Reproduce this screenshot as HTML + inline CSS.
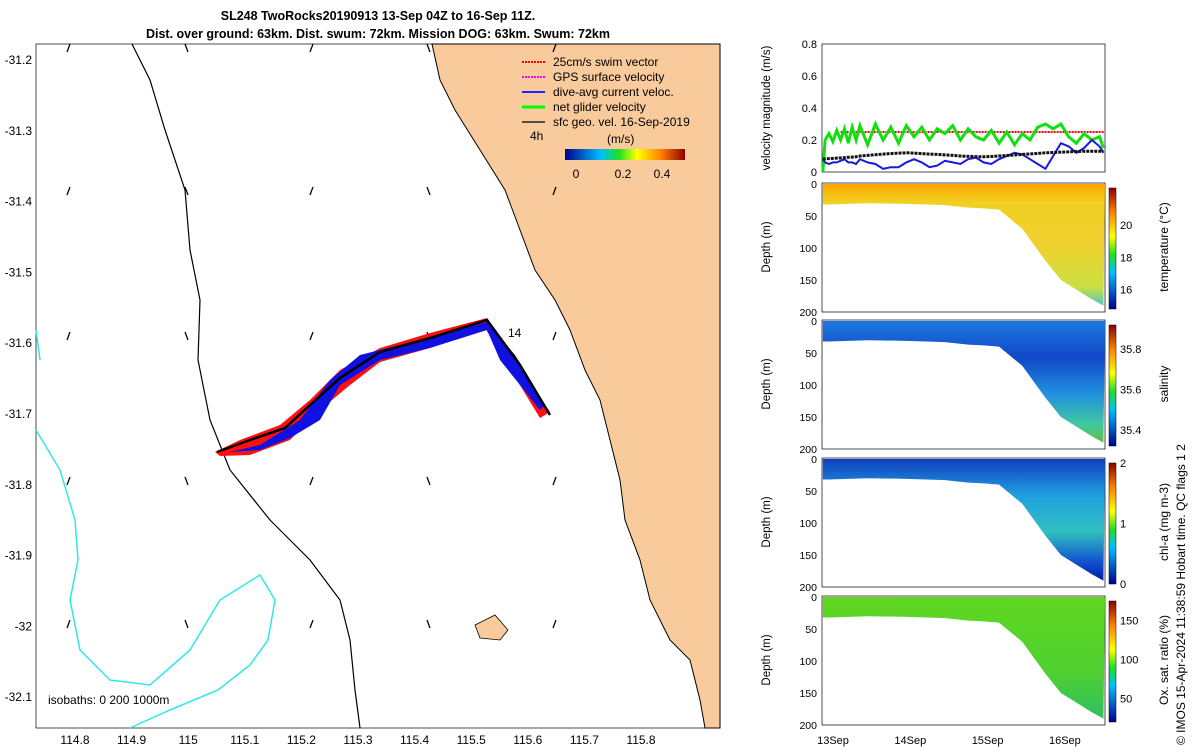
<!DOCTYPE html>
<html><head><meta charset="utf-8"><style>
body{margin:0;background:#fff;font-family:"Liberation Sans",sans-serif}
svg text{font-family:"Liberation Sans",sans-serif}
</style></head><body>
<svg id="s" width="1200" height="750" xmlns="http://www.w3.org/2000/svg">
<defs>
<linearGradient id="jet" x1="0" x2="1" y1="0" y2="0"><stop offset="0" stop-color="#00008f"/><stop offset="0.3" stop-color="#00bfff"/><stop offset="0.45" stop-color="#20e020"/><stop offset="0.6" stop-color="#ffff00"/><stop offset="0.8" stop-color="#ff8000"/><stop offset="1" stop-color="#8f0000"/></linearGradient>
<linearGradient id="jetv" x1="0" x2="0" y1="1" y2="0"><stop offset="0" stop-color="#00008f"/><stop offset="0.3" stop-color="#00bfff"/><stop offset="0.45" stop-color="#20e020"/><stop offset="0.6" stop-color="#ffff00"/><stop offset="0.8" stop-color="#ff8000"/><stop offset="1" stop-color="#8f0000"/></linearGradient>
<linearGradient id="tg" x1="0" x2="0" y1="0" y2="1"><stop offset="0" stop-color="#ffa500"/><stop offset="0.15" stop-color="#f0d020"/><stop offset="0.5" stop-color="#f0d030"/><stop offset="0.85" stop-color="#c8e040"/><stop offset="1" stop-color="#50c8c0"/></linearGradient>
<linearGradient id="sg" x1="0" x2="0" y1="0" y2="1"><stop offset="0" stop-color="#1e78e0"/><stop offset="0.3" stop-color="#1048c8"/><stop offset="0.6" stop-color="#2090e0"/><stop offset="0.85" stop-color="#40c8a0"/><stop offset="1" stop-color="#60c040"/></linearGradient>
<linearGradient id="cg" x1="0" x2="0" y1="0" y2="1"><stop offset="0" stop-color="#1040c0"/><stop offset="0.3" stop-color="#20a0e0"/><stop offset="0.6" stop-color="#30c0c0"/><stop offset="0.85" stop-color="#1050d0"/><stop offset="1" stop-color="#0020a0"/></linearGradient>
<linearGradient id="og" x1="0" x2="0" y1="0" y2="1"><stop offset="0" stop-color="#60d820"/><stop offset="0.6" stop-color="#50d030"/><stop offset="1" stop-color="#30c060"/></linearGradient>
</defs>
<text x="378" y="20" text-anchor="middle" font-size="12.5" font-weight="bold">SL248 TwoRocks20190913 13-Sep 04Z to 16-Sep 11Z.</text>
<text x="378" y="38" text-anchor="middle" font-size="12.5" font-weight="bold">Dist. over ground: 63km. Dist. swum: 72km. Mission DOG: 63km. Swum: 72km</text>
<g id="map">
<rect x="36" y="44" width="684" height="684" fill="#fff" stroke="#000" stroke-width="0.7"/>
<path d="M432,44 L440,80 L455,110 L480,150 L505,190 L520,230 L535,270 L555,300 L570,330 L585,370 L600,400 L610,440 L620,480 L625,520 L640,560 L650,600 L670,640 L690,660 L700,700 L705,728 L720,728 L720,44 Z" fill="#f9cb9c" stroke="#000" stroke-width="1"/>
<path d="M132,44 L150,80 L165,130 L185,190 L190,250 L200,300 L198,360 L210,420 L230,470 L270,520 L310,560 L340,600 L350,640 L355,690 L360,728" fill="none" stroke="#000" stroke-width="1.2"/>
<path d="M36,430 L60,470 L75,520 L78,560 L70,600 L80,650 L110,680 L150,685 L190,650 L220,600 L260,575 L275,600 L268,640 L250,665 L218,690 L170,710 L130,728 M36,330 L40,360" fill="none" stroke="#30e8e8" stroke-width="1.5"/>
<path d="M475,625 L495,615 L508,630 L500,640 L480,638 Z" fill="#f9cb9c" stroke="#000" stroke-width="0.8"/>
<g id="arrows"></g>
<path d="M215,452 L240,440 L280,425 L310,400 L340,370 L380,348 L430,333 L487,318 L550,412 L540,418 L485,328 L430,348 L380,362 L350,385 L320,410 L290,440 L250,455 L220,456 Z" fill="#ff1010"/>
<path d="M230,452 L260,445 L300,420 L330,380 L360,355 L400,345 L440,335 L487,322 L515,355 L545,405 L540,410 L500,360 L487,330 L430,348 L380,360 L340,385 L320,420 L290,438 L260,450 Z" fill="#1010e0"/>
<path d="M217,452 L250,440 L285,428 L310,405 L340,378 L380,352 L430,338 L487,320 L520,365 L550,415" fill="none" stroke="#000" stroke-width="2.5"/>
<text x="508" y="337" font-size="12">14</text>
<g font-size="12">
<text x="553" y="66">25cm/s swim vector</text><line x1="522" y1="62" x2="545" y2="62" stroke="#f00" stroke-dasharray="2,1" stroke-width="2"/>
<text x="553" y="81">GPS surface velocity</text><line x1="522" y1="77" x2="545" y2="77" stroke="#f0f" stroke-dasharray="2,1" stroke-width="2"/>
<text x="553" y="96">dive-avg current veloc.</text><line x1="522" y1="92" x2="545" y2="92" stroke="#22f" stroke-width="2"/>
<text x="553" y="111">net glider velocity</text><line x1="522" y1="107" x2="545" y2="107" stroke="#0f0" stroke-width="3"/>
<text x="553" y="126">sfc geo. vel. 16-Sep-2019</text><line x1="522" y1="122" x2="545" y2="122" stroke="#222" stroke-width="1.5"/>
<text x="530" y="140">4h</text><text x="607" y="143">(m/s)</text>
<rect x="565" y="149" width="120" height="11" fill="url(#jet)"/>
<text x="576" y="178" text-anchor="middle">0</text><text x="623" y="178" text-anchor="middle">0.2</text><text x="662" y="178" text-anchor="middle">0.4</text>
</g>
<text x="48" y="704" font-size="12">isobaths: 0   200  1000m</text>
<g id="mapticks" font-size="12"></g>
</g>
<g id="right"></g>
<text x="1185" y="745" font-size="12" transform="rotate(-90 1185 745)">© IMOS 15-Apr-2024 11:38:59 Hobart time. QC flags 1  2</text>
</svg>
<script>
const NS="http://www.w3.org/2000/svg";
function mk(t,a,p){const e=document.createElementNS(NS,t);for(const k in a)e.setAttribute(k,a[k]);p.appendChild(e);return e;}
const lonTicks=[114.8,114.9,115,115.1,115.2,115.3,115.4,115.5,115.6,115.7,115.8];
const latTicks=[-31.2,-31.3,-31.4,-31.5,-31.6,-31.7,-31.8,-31.9,-32,-32.1];
const mx=v=>75+(v-114.8)*566, my=v=>60+(-31.2-v)*708;
const mt=document.getElementById('mapticks');
lonTicks.forEach(v=>{const t=mk('text',{x:mx(v),y:744,'text-anchor':'middle'},mt);t.textContent=String(v);

});
latTicks.forEach(v=>{const t=mk('text',{x:32,y:my(v)+4,'text-anchor':'end'},mt);t.textContent=String(v);

});
const arrX=[67,188,310,430,553],arrY=[52,195,340,485,628];
const ag=document.getElementById('arrows');
arrX.forEach((x,i)=>arrY.forEach((y,j)=>{const dx=(i%2?-1:1)*3,dy=-8;const l=mk('line',{x1:x,y1:y,x2:x+dx,y2:y+dy,stroke:'#000','stroke-width':1.3},ag);

}));
const R=document.getElementById('right');
const dayTicks=[13,14,15,16],dayLabels=['13Sep','14Sep','15Sep','16Sep'];
const tStart=12.92,tEnd=16.55;
const vx=t=>829+(t-13)*77.3;
const tx=vx;
const vTimes=[12.92,12.95,13.0,13.05,13.1,13.15,13.2,13.25,13.3,13.35,13.4,13.5,13.6,13.7,13.8,13.9,14.0,14.1,14.2,14.3,14.4,14.5,14.6,14.7,14.8,14.9,15.0,15.1,15.2,15.3,15.4,15.5,15.6,15.7,15.8,15.9,16.0,16.1,16.2,16.3,16.4,16.5,16.55];
const netVel=[0.0,0.2,0.24,0.19,0.26,0.2,0.27,0.18,0.28,0.2,0.29,0.17,0.3,0.2,0.28,0.18,0.29,0.22,0.28,0.2,0.27,0.24,0.29,0.2,0.27,0.22,0.2,0.26,0.18,0.25,0.17,0.24,0.2,0.28,0.3,0.27,0.3,0.22,0.18,0.24,0.2,0.22,0.15];
const curVel=[0.08,0.06,0.05,0.06,0.06,0.07,0.08,0.06,0.06,0.05,0.08,0.06,0.05,0.02,0.03,0.03,0.06,0.08,0.06,0.03,0.04,0.07,0.06,0.05,0.08,0.09,0.06,0.05,0.08,0.1,0.12,0.11,0.08,0.05,0.02,0.1,0.18,0.16,0.12,0.15,0.2,0.16,0.12];
const geoVel=[0.08,0.082,0.084,0.085,0.087,0.088,0.09,0.092,0.093,0.095,0.1,0.104,0.108,0.112,0.115,0.118,0.12,0.118,0.115,0.112,0.11,0.107,0.104,0.1,0.098,0.096,0.095,0.097,0.1,0.103,0.106,0.11,0.113,0.116,0.12,0.122,0.124,0.126,0.128,0.13,0.13,0.13,0.13];
const swimVel=0.25;
const vy=v=>172-v*160;
mk('rect',{x:822,y:44,width:283,height:128,fill:'#fff',stroke:'#000','stroke-width':0.7,},R);
[0,0.2,0.4,0.6,0.8].forEach(v=>{const t=mk('text',{x:817,y:vy(v)+4,'text-anchor':'end','font-size':11},R);t.textContent=String(v);

});
const vl=mk('text',{x:770,y:108,'text-anchor':'middle','font-size':11.5,transform:'rotate(-90 770 108)'},R);vl.textContent='velocity magnitude (m/s)';


const sw=mk('line',{x1:vx(13.15),x2:1105,y1:vy(swimVel),y2:vy(swimVel),stroke:'#f00','stroke-dasharray':'2,1','stroke-width':2},R);


function poly(arr,col,w,name,dash){const p=mk('polyline',{points:vTimes.map((t,i)=>Math.min(1105,vx(t))+','+vy(arr[i])).join(' '),fill:'none',stroke:col,'stroke-width':w},R);
if(dash)p.setAttribute('stroke-dasharray',dash);

}
poly(netVel,'#10e010',3,'net-velocity-line');poly(curVel,'#1818e0',2,'current-velocity-line');poly(geoVel,'#111',3,'geo-velocity-line','3,1');
const panels=[{y:183,fill:'url(#tg)',ticks:[16,18,20],lo:14.8,hi:22.3,label:'temperature (°C)'},
{y:320,fill:'url(#sg)',ticks:[35.4,35.6,35.8],lo:35.32,hi:35.92,label:'salinity'},
{y:458,fill:'url(#cg)',ticks:[0,1,2],lo:0,hi:2,label:'chl-a (mg m-3)'},
{y:596,fill:'url(#og)',ticks:[50,100,150],lo:20,hi:175,label:'Ox. sat. ratio (%)'}];
const secT=[12.92,13.0,13.5,14.0,14.5,14.8,15.0,15.2,15.5,15.8,16.0,16.2,16.4,16.55];
const secDepth=[32,32,30,31,33,37,38,40,70,120,150,165,180,190];
const depthTicks=[0,50,100,150,200];
panels.forEach((p,k)=>{
 const dy=d=>p.y+1+d*0.64;
 mk('rect',{x:822,y:p.y,width:283,height:129,fill:'#fff',stroke:'#000','stroke-width':0.7,},R);
 const pts=[vx(tStart)+','+dy(0)];secT.forEach((t,i)=>pts.push(Math.min(1105,vx(t))+','+dy(secDepth[i])));pts.push('1105,'+dy(0));
 const pg=mk('polygon',{points:pts.join(' '),fill:p.fill},R);
 
 
 depthTicks.forEach(d=>{const t=mk('text',{x:817,y:dy(d)+4,'text-anchor':'end','font-size':10.5},R);t.textContent=String(d);
 
 });
 const dl=mk('text',{x:770,y:p.y+64,'text-anchor':'middle','font-size':11.5,transform:`rotate(-90 770 ${p.y+64})`},R);dl.textContent='Depth (m)';
 
 
 const cb=mk('rect',{x:1109,y:p.y+5,width:7,height:121,fill:'url(#jetv)',stroke:'#000','stroke-width':0.5},R);
 
 
 p.ticks.forEach(v=>{const yy=p.y+126-(v-p.lo)/(p.hi-p.lo)*121;const t=mk('text',{x:1120,y:yy+4,'font-size':11},R);t.textContent=String(v);
 
 });
 const cl=mk('text',{x:1168,y:p.y+64,'text-anchor':'middle','font-size':12,transform:`rotate(-90 1168 ${p.y+64})`},R);cl.textContent=p.label;
 
 
});
dayTicks.forEach((d,i)=>{const t=mk('text',{x:tx(d)+4,y:744,'text-anchor':'middle','font-size':11},R);t.textContent=dayLabels[i];

});
</script>
</body></html>
